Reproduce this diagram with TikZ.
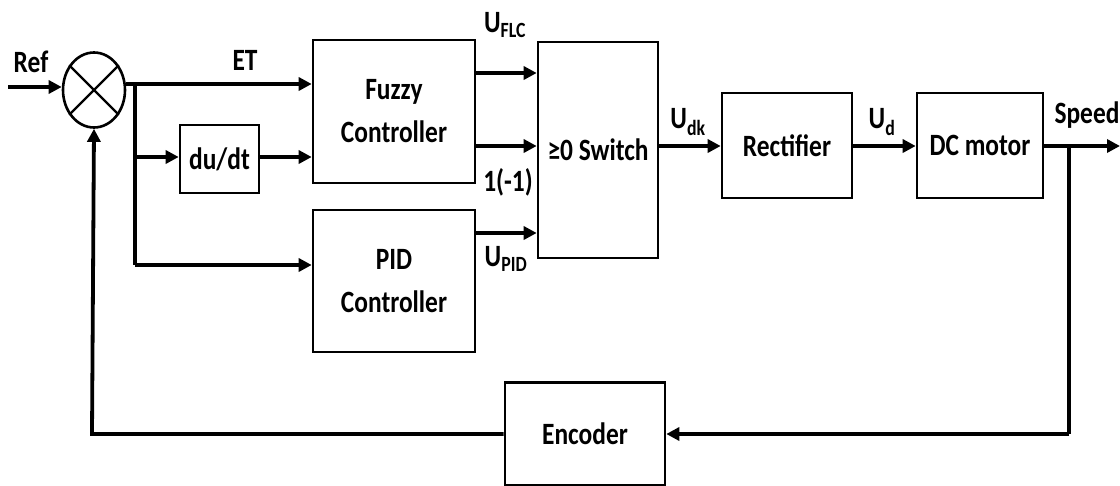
\documentclass[tikz,border=0pt]{standalone}
\usepackage{fontspec}
\setmainfont{Carlito}[FakeStretch=0.82]
\usetikzlibrary{arrows.meta,shapes.geometric}
\tikzset{
  blk/.style={draw, line width=2.6pt, rectangle, inner sep=0pt, align=center},
  sig/.style={line width=3.8pt, -{Triangle[length=13pt,width=13pt]}},
  wire/.style={line width=3.8pt},
  lbl/.style={inner sep=0pt},
  every node/.style={font=\bfseries\fontsize{31}{43}\selectfont},
}
\begin{document}
\begin{tikzpicture}[x=1pt,y=-1pt]
\useasboundingbox (0,0) rectangle (1120,485);
% blocks
\node[draw, line width=2.6pt, ellipse, minimum width=62pt, minimum height=75pt, inner sep=0pt] (sum) at (94,90) {};
\node[blk, minimum width=162pt, minimum height=143pt] (fuzzy) at (394,111.5) {Fuzzy\\Controller};
\node[blk, minimum width=162pt, minimum height=142pt] (pid) at (394,281) {PID\\Controller};
\node[blk, minimum width=79pt, minimum height=68pt] (dudt) at (219.5,159) {du/dt};
\node[blk, minimum width=120pt, minimum height=216pt] (sw) at (598,150) {≥0 Switch};
\node[blk, minimum width=130pt, minimum height=105pt] (rect) at (787,145.5) {Rectifier};
\node[blk, minimum width=126pt, minimum height=105pt] (dc) at (980,145.5) {DC motor};
\node[blk, minimum width=160pt, minimum height=103pt] (enc) at (585,434) {Encoder};
% cross in summing junction
\draw[line width=2.4pt] (sum.45) -- (sum.225);
\draw[line width=2.4pt] (sum.135) -- (sum.315);
% coordinates
\coordinate (refin) at (8,87);
\coordinate (b1) at (135,84);
\coordinate (b2) at (135,157);
\coordinate (b3) at (135,265);
\coordinate (f1) at (475,73);
\coordinate (f2) at (475,146);
\coordinate (p1) at (475,233);
\coordinate (out) at (1120,146);
\coordinate (sp) at (1069,146);
\coordinate (fbR) at (1069,434);
\coordinate (fbL) at (92,434);
% connectors
\draw[sig] (refin) -- (refin -| sum.west);
\draw[sig] (sum.east |- b1) -- (fuzzy.west |- b1);
\draw[wire] (b1) -- (b3);
\draw[sig] (b2) -- (dudt.west |- b2);
\draw[sig] (dudt.east |- b2) -- (fuzzy.west |- b2);
\draw[sig] (b3) -- (pid.west |- b3);
\draw[sig] (f1) -- (sw.west |- f1);
\draw[sig] (f2) -- (sw.west |- f2);
\draw[sig] (p1) -- (sw.west |- p1);
\draw[sig] (sw.east |- f2) -- (rect.west |- f2);
\draw[sig] (rect.east |- f2) -- (dc.west |- f2);
\draw[sig] (dc.east |- f2) -- (out);
\draw[wire] (sp) -- (fbR);
\draw[sig] (fbR) -- (enc.east);
\draw[sig] (enc.west) -- (fbL) -- (sum.south);
% labels
\node[lbl] (lref) at (31,62) {Ref};
\node[lbl] (let) at (245,60) {ET};
\node[lbl] (lflc) at (505,25) {U\textsubscript{FLC}};
\node[lbl] (lone) at (508,182) {1(-1)};
\node[lbl] (lpid) at (506,259) {U\textsubscript{PID}};
\node[lbl] (ldk) at (688,122) {U\textsubscript{dk}};
\node[lbl] (ld) at (882,122) {U\textsubscript{d}};
\node[lbl] (lspeed) at (1087,115) {Speed};
\end{tikzpicture}
\end{document}
